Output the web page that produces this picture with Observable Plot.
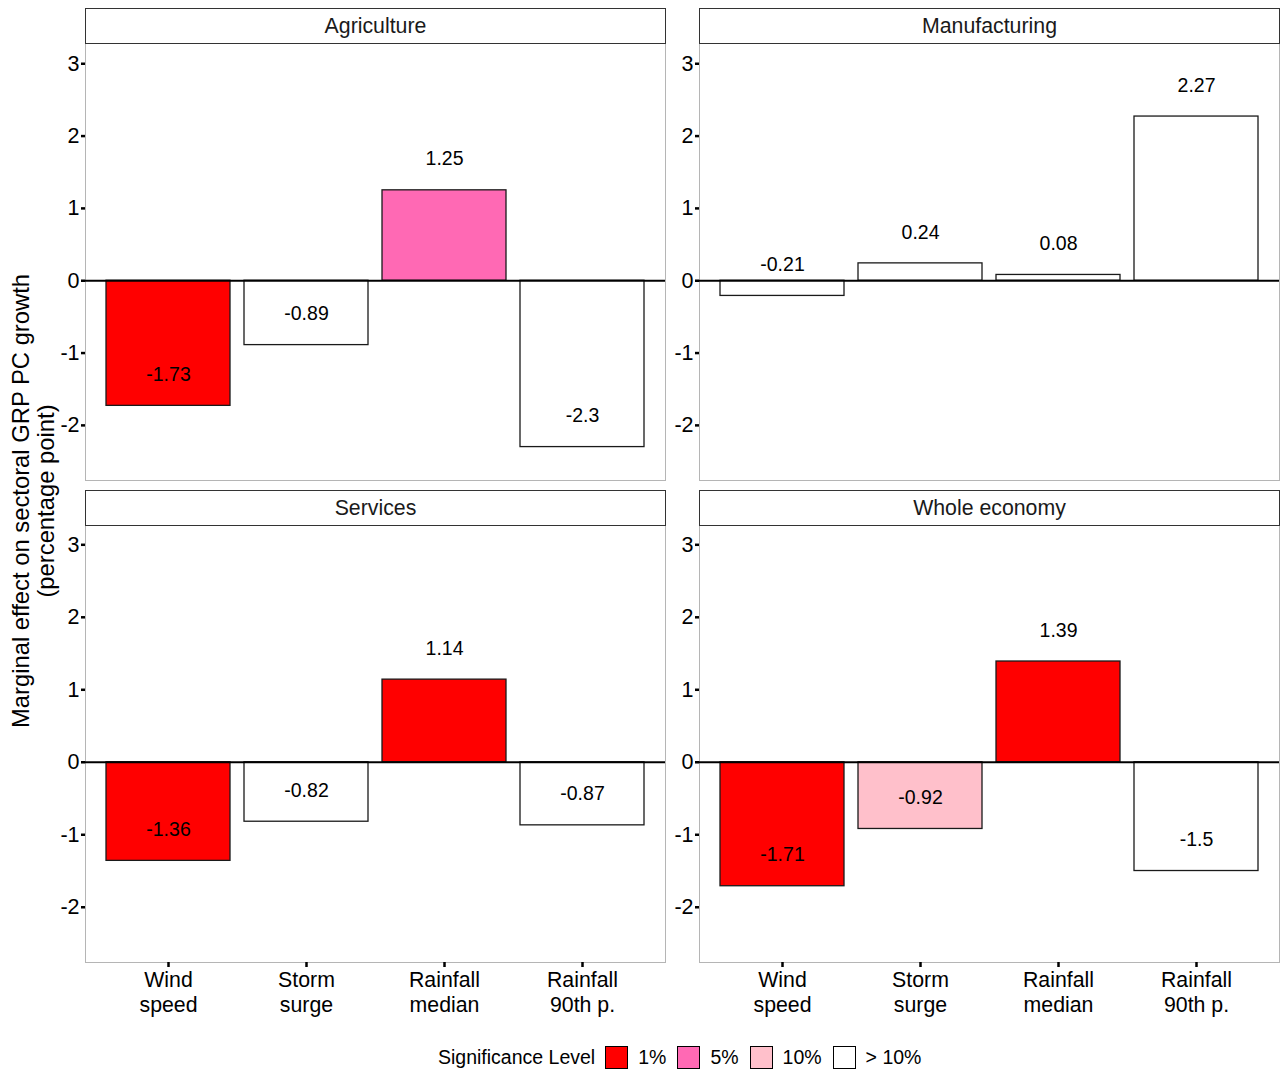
<!DOCTYPE html>
<html>
<head>
<meta charset="utf-8">
<script src="https://cdn.jsdelivr.net/npm/d3@7"></script>
<script src="https://cdn.jsdelivr.net/npm/@observablehq/plot@0.6"></script>
<style>
  html, body { margin: 0; padding: 0; background: #fff; }
  body { font-family: "Liberation Sans", Arial, Helvetica, sans-serif; color: #000; }
  #chart { position: relative; width: 1280px; height: 1071px; overflow: hidden; background: #fff; }
  .strip { position: absolute; box-sizing: border-box; border: 1px solid #333; background: #fff;
           display: flex; align-items: center; justify-content: center; font-size: 21.3px; color: #1a1a1a; }
  .panel { position: absolute; }
  .panel svg { overflow: visible; }
  #ytitle { position: absolute; width: 600px; height: 50px; left: -267px; top: 476px;
            transform: rotate(-90deg); text-align: center; font-size: 23.8px; line-height: 25px; color: #000; }
  #legend { position: absolute; left: 438px; top: 1045px; height: 24px; display: flex; align-items: center;
            font-size: 19.5px; color: #000; white-space: nowrap; }
  #legend .sw { width: 21px; height: 21px; border: 1px solid #000; box-sizing: content-box; }
</style>
</head>
<body>
<div id="chart"></div>
<script>
// ---- data ----
const sectors = ["Agriculture", "Manufacturing", "Services", "Whole economy"];
const variables = ["Wind speed", "Storm surge", "Rainfall median", "Rainfall 90th p."];
const xTickLabels = ["Wind\nspeed", "Storm\nsurge", "Rainfall\nmedian", "Rainfall\n90th p."];

const agricultureValues   = [-1.73, -0.89, 1.25, -2.3];
const manufacturingValues = [-0.21, 0.24, 0.08, 2.27];
const servicesValues      = [-1.36, -0.82, 1.14, -0.87];
const wholeEconomyValues  = [-1.71, -0.92, 1.39, -1.5];

const agricultureSig   = ["1%", "> 10%", "5%", "> 10%"];
const manufacturingSig = ["> 10%", "> 10%", "> 10%", "> 10%"];
const servicesSig      = ["1%", "> 10%", "1%", "> 10%"];
const wholeEconomySig  = ["1%", "10%", "1%", "> 10%"];

const levels = ["1%", "5%", "10%", "> 10%"];
const levelColors = ["#FF0000", "#FF69B4", "#FFC0CB", "#FFFFFF"];
const yTicks = [-2, -1, 0, 1, 2, 3];

const legendTitle = "Significance Level";
const yTitleLines = ["Marginal effect on sectoral GRP PC growth", "(percentage point)"];

// ---- build table ----
const valuesBySector = [agricultureValues, manufacturingValues, servicesValues, wholeEconomyValues];
const sigBySector = [agricultureSig, manufacturingSig, servicesSig, wholeEconomySig];
const rows = [];
sectors.forEach((s, i) => variables.forEach((v, j) => rows.push({
  sector: s, variable: v, value: valuesBySector[i][j], sig: sigBySector[i][j]
})));

const chart = document.getElementById("chart");
const FONT = '"Liberation Sans", Arial, Helvetica, sans-serif';
const yDomain = [-2.762, 3.28];
const labelOffset = 0.43;

const layout = [
  {i: 0, left: 0,   top: 43,  ml: 85, mr: 5, ph: 437, showX: false, stripTop: 8,   stripLeft: 85},
  {i: 1, left: 666, top: 43,  ml: 33, mr: 1, ph: 437, showX: false, stripTop: 8,   stripLeft: 699},
  {i: 2, left: 0,   top: 524, ml: 85, mr: 5, ph: 438, showX: true,  stripTop: 490, stripLeft: 85},
  {i: 3, left: 666, top: 524, ml: 33, mr: 1, ph: 438, showX: true,  stripTop: 490, stripLeft: 699}
];

for (const L of layout) {
  const sector = sectors[L.i];
  const data = rows.filter(d => d.sector === sector);
  const mb = L.showX ? 70 : 3;
  const width = L.ml + 580 + L.mr;

  const marks = [
    Plot.frame({stroke: "#b5b5b5", strokeWidth: 1}),
    Plot.barY(data, {x: "variable", y: "value", fill: "sig", stroke: "#1a1a1a", strokeWidth: 1.3}),
    Plot.ruleY([0], {stroke: "#000", strokeWidth: 2}),
    Plot.text(data, {x: "variable", y: d => d.value + labelOffset, text: d => String(d.value),
                     fontSize: 19.5, fill: "#000"}),
    Plot.axisY({ticks: yTicks, tickSize: 4, tickPadding: 2, strokeWidth: 2.5, fontSize: 21.5,
                label: null, tickFormat: d => String(d), fill: "#000"})
  ];
  if (L.showX) {
    marks.push(Plot.axisX({tickSize: 5, tickPadding: 1, strokeWidth: 2.5, fontSize: 21.3, lineHeight: 1.2,
                           label: null, fill: "#000",
                           tickFormat: d => xTickLabels[variables.indexOf(d)]}));
  }

  const svg = Plot.plot({
    width,
    height: L.ph + mb,
    marginLeft: L.ml,
    marginRight: L.mr,
    marginTop: 0,
    marginBottom: mb,
    style: {fontFamily: FONT, fontSize: "20px", background: "transparent", color: "#000", overflow: "visible"},
    x: {type: "band", domain: variables, paddingInner: 0.1, paddingOuter: 0.15, align: 0.5, label: null,
        axis: L.showX ? undefined : null},
    y: {domain: yDomain, label: null},
    color: {type: "ordinal", domain: levels, range: levelColors},
    marks
  });

  const holder = document.createElement("div");
  holder.className = "panel";
  holder.style.left = L.left + "px";
  holder.style.top = L.top + "px";
  holder.appendChild(svg);
  chart.appendChild(holder);

  const strip = document.createElement("div");
  strip.className = "strip";
  strip.style.left = L.stripLeft + "px";
  strip.style.top = L.stripTop + "px";
  strip.style.width = "581px";
  strip.style.height = "36px";
  strip.textContent = sector;
  chart.appendChild(strip);
}

// y title
const yt = document.createElement("div");
yt.id = "ytitle";
yt.innerHTML = yTitleLines.map(t => `<div>${t}</div>`).join("");
chart.appendChild(yt);

// legend
const lg = document.createElement("div");
lg.id = "legend";
const title = document.createElement("span");
title.textContent = legendTitle;
title.style.marginRight = "10px";
lg.appendChild(title);
levels.forEach((lv, k) => {
  const sw = document.createElement("span");
  sw.className = "sw";
  sw.style.background = levelColors[k];
  if (k > 0) sw.style.marginLeft = "11px";
  lg.appendChild(sw);
  const t = document.createElement("span");
  t.textContent = lv;
  t.style.marginLeft = "10px";
  lg.appendChild(t);
});
chart.appendChild(lg);
</script>
</body>
</html>
